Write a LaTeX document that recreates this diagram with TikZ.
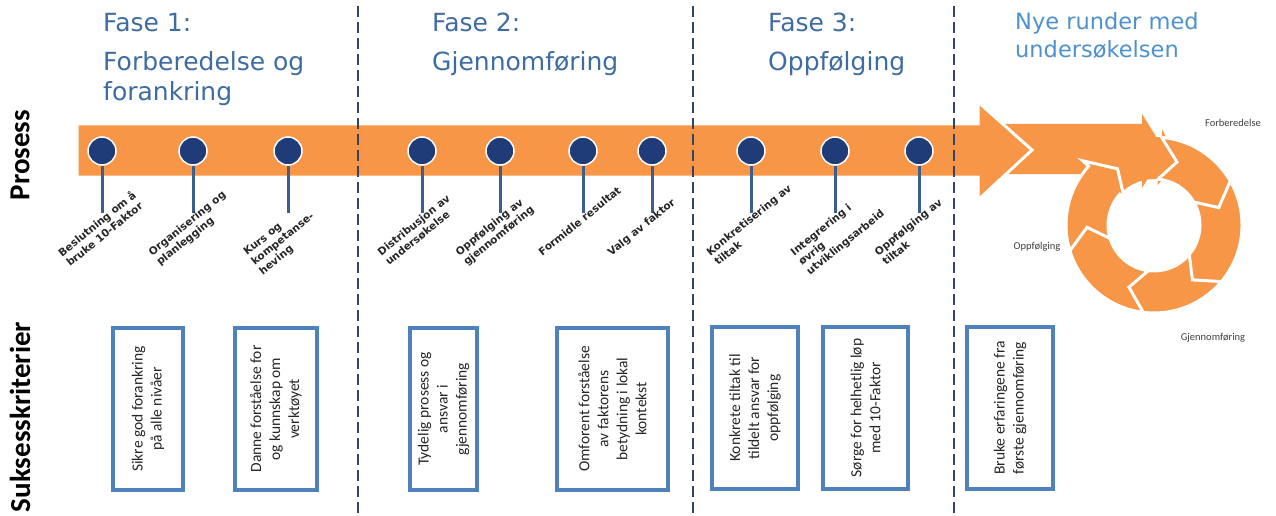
\documentclass[tikz,border=0pt]{standalone}
\usepackage{fontspec}
\setmainfont{Carlito}
\newfontfamily\fasefont{DejaVu Sans}
\newfontfamily\mlfont{DejaVu Sans}
\usetikzlibrary{positioning}

\definecolor{bandorange}{RGB}{247,150,70}
\definecolor{fasebl}{RGB}{62,108,160}
\definecolor{nyebl}{RGB}{79,145,205}
\definecolor{dotbl}{RGB}{31,60,120}
\definecolor{stembl}{RGB}{59,94,140}
\definecolor{boxbl}{RGB}{79,129,189}
\definecolor{dashgr}{RGB}{50,70,100}

% one piece of the ring: from #1 to #2 degrees, clockwise
\newcommand{\ringseg}[3]{%
  \path[#3] ([shift={(cyc)}]#1:88pt) arc[start angle=#1,end angle=#2,radius=88pt]
    -- ([shift={(cyc)}]#2:96pt) -- ([shift={(cyc)}]#2-15:67pt)
    -- ([shift={(cyc)}]#2:40pt) -- ([shift={(cyc)}]#2:46pt)
    arc[start angle=#2,end angle=#1,radius=46pt]
    -- ([shift={(cyc)}]#1-15:67pt) -- cycle;}

\begin{document}
\begin{tikzpicture}[x=1pt,y=-1pt,
  fase/.style={font=\fasefont\fontsize{25}{30}\selectfont,text=fasebl,inner sep=0pt,align=left},
  nye/.style={font=\fasefont\fontsize{22.5}{28}\selectfont,text=nyebl,inner sep=0pt,align=left},
  side/.style={font=\bfseries\fontsize{29}{30}\selectfont,rotate=90,inner sep=0pt},
  mdot/.style={circle,fill=dotbl,draw=white,line width=1.5pt,minimum size=28pt,inner sep=0pt},
  stem/.style={draw=stembl,line width=3pt},
  mlabel/.style={font=\mlfont\bfseries\fontsize{10.5}{12.5}\selectfont,rotate=39,anchor=north west,
    inner sep=0pt,align=left,text=black!85},
  critbox/.style={draw=boxbl,line width=3.5pt,fill=white,rotate=90,minimum width=162pt,
    align=center,font=\fontsize{15.5}{19}\selectfont,text=black!85,inner sep=0pt},
  bigarrow/.style={fill=bandorange,draw=white,line width=3pt,line join=miter},
  ringpiece/.style={fill=bandorange,draw=white,line width=3pt},
  ringlbl/.style={font=\fontsize{10.5}{12}\selectfont,text=black!75,inner sep=0pt},
  sep/.style={draw=dashgr,line width=1.6pt,dash pattern=on 11pt off 5pt}]

\useasboundingbox (0,0) rectangle (1276,516);

% headings
\node[fase,anchor=base west] (f1) at (103,32) {Fase 1:};
\node[fase,anchor=north west] (f1t) at (103,51) {Forberedelse og\\forankring};
\node[fase,anchor=base west] (f2) at (432,32) {Fase 2:};
\node[fase,anchor=north west] (f2t) at (432,51) {Gjennomføring};
\node[fase,anchor=base west] (f3) at (768,32) {Fase 3:};
\node[fase,anchor=north west] (f3t) at (768,51) {Oppfølging};
\node[nye,anchor=north west] (nye) at (1015,12) {Nye runder med\\undersøkelsen};

\node[side] (pros) at (20,155) {Prosess};
\node[side] (suks) at (20,417) {Suksesskriterier};

% second arrow and the ring
\coordinate (cyc) at (1154,225);
\fill[bandorange] (1000,124) -- (1142,124) -- (1142,114) -- (1165,151) -- (1142,188)
  -- (1142,174) -- (1000,174) -- cycle;
\ringseg{138}{85}{fill=bandorange}
\ringseg{85}{30}{ringpiece}
\ringseg{30}{-40}{ringpiece}
\ringseg{-40}{-97}{ringpiece}
\ringseg{-97}{-163}{ringpiece}
\ringseg{-163}{-222}{ringpiece}

% main band
\path[bigarrow] (77,124) -- (978,124) -- (978,102) -- (1032,150) -- (978,200)
  -- (978,177) -- (77,177) -- cycle;

\node[ringlbl] (rl1) at (1233,123) {Forberedelse};
\node[ringlbl] (rl2) at (1037,247) {Oppfølging};
\node[ringlbl] (rl3) at (1213,338) {Gjennomføring};

% milestones
\foreach \x/\lbl [count=\i] in {102/{Beslutning om å\\bruke 10-Faktor},
    193/{Organisering og\\planlegging}, 288/{Kurs og\\kompetanse-\\heving},
    422/{Distribusjon av\\undersøkelse}, 500/{Oppfølging av\\gjennomføring},
    583/{Formidle resultat}, 652/{Valg av faktor},
    751/{Konkretisering av\\tiltak}, 835/{Integrering i\\øvrig\\utviklingsarbeid},
    919/{Oppfølging av\\tiltak}} {
  \node[mdot] (d\i) at (\x,151) {};
  \coordinate (s\i) at (\x,213);
  \path (d\i) edge[stem] (s\i);
  \node[mlabel] (l\i) at (\x-46,250) {\lbl};
}

% success criteria
\node[critbox,minimum height=70pt] (k1) at (148,409) {Sikre god forankring\\på alle nivåer};
\node[critbox,minimum height=82pt] (k2) at (276,409) {Danne forståelse for\\og kunnskap om\\verktøyet};
\node[critbox,minimum height=67pt] (k3) at (443.5,409) {Tydelig prosess og\\ansvar i\\gjennomføring};
\node[critbox,minimum height=111pt] (k4) at (612.5,409) {Omforent forståelse\\av faktorens\\betydning i lokal\\kontekst};
\node[critbox,minimum height=86pt] (k5) at (755,408) {Konkrete tiltak til\\tildelt ansvar for\\oppfølging};
\node[critbox,minimum height=85pt] (k6) at (865.5,408) {Sørge for helhetlig løp\\med 10-Faktor};
\node[critbox,minimum height=86pt] (k7) at (1010,408) {Bruke erfaringene fra\\første gjennomføring};

% phase borders
\foreach \x in {358,693,954}
  \draw[sep] (\x,6) -- (\x,516);

\end{tikzpicture}
\end{document}
